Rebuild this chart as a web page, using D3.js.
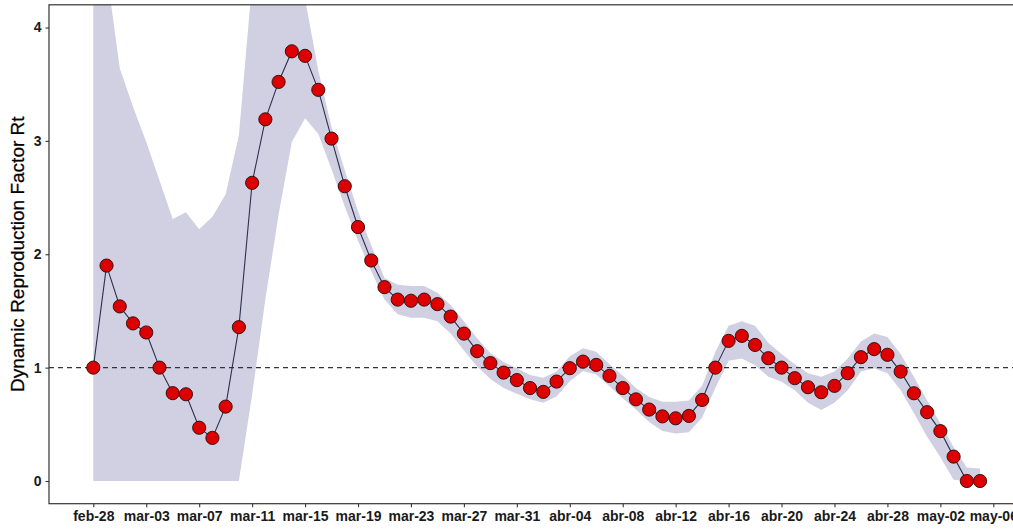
<!DOCTYPE html>
<html>
<head>
<meta charset="utf-8">
<script src="https://cdn.jsdelivr.net/npm/d3@7"></script>
<style>
  body { margin: 0; background: #ffffff; }
  text { font-family: "Liberation Sans", Arial, sans-serif; }
</style>
</head>
<body>
<svg id="chart" width="1013" height="529"></svg>
<script>
// Daily estimates of the dynamic reproduction factor Rt, from 2020-02-28
const startDate = "2020-02-28";

const rt = [
  1.00, 1.90, 1.54, 1.39, 1.31, 1.00, 0.775, 0.765, 0.47, 0.38,
  0.656, 1.357, 2.63, 3.19, 3.52, 3.79, 3.75, 3.45, 3.02, 2.60,
  2.24, 1.945, 1.71, 1.60, 1.59, 1.60, 1.56, 1.45, 1.30, 1.145,
  1.04, 0.956, 0.89, 0.82, 0.786, 0.877, 0.995, 1.053, 1.024, 0.927,
  0.82, 0.72, 0.63, 0.57, 0.553, 0.574, 0.715, 1.00, 1.236, 1.28,
  1.20, 1.083, 1.00, 0.907, 0.827, 0.783, 0.839, 0.951, 1.092, 1.163,
  1.113, 0.965, 0.774, 0.607, 0.44, 0.215, 0.0, 0.0
];

// Lower bound of the credible interval
const rtLower = [
  0, 0, 0, 0, 0, 0, 0, 0, 0, 0,
  0, 0, 0.76, 1.60, 2.35, 2.99, 3.20, 3.06, 2.75, 2.42,
  2.12, 1.85, 1.60, 1.47, 1.44, 1.44, 1.41, 1.30, 1.15, 1.01,
  0.90, 0.82, 0.77, 0.72, 0.69, 0.745, 0.88, 0.97, 0.94, 0.835,
  0.73, 0.63, 0.52, 0.44, 0.42, 0.43, 0.56, 0.82, 1.06, 1.08,
  1.02, 0.92, 0.875, 0.80, 0.69, 0.627, 0.69, 0.80, 0.965, 0.995,
  0.95, 0.80, 0.60, 0.39, 0.21, 0.01, 0, 0
];

// Upper bound of the credible interval
const rtUpper = [
  12, 4.5, 3.64, 3.30, 2.99, 2.65, 2.31, 2.37, 2.22, 2.33,
  2.53, 3.05, 4.4, 5.3, 5.6, 5.1, 4.25, 3.62, 3.12, 2.74,
  2.38, 2.08, 1.79, 1.73, 1.72, 1.72, 1.66, 1.55, 1.41, 1.26,
  1.13, 1.05, 0.995, 0.935, 0.91, 0.965, 1.10, 1.17, 1.14, 1.03,
  0.93, 0.82, 0.74, 0.70, 0.70, 0.71, 0.84, 1.14, 1.37, 1.41,
  1.37, 1.22, 1.12, 1.03, 0.95, 0.92, 0.965, 1.08, 1.23, 1.30,
  1.27, 1.12, 0.92, 0.71, 0.51, 0.30, 0.12, 0.11
];

const yTicks = [0, 1, 2, 3, 4];
const xTickDates = [
  "2020-02-28", "2020-03-03", "2020-03-07", "2020-03-11", "2020-03-15", "2020-03-19",
  "2020-03-23", "2020-03-27", "2020-03-31", "2020-04-04", "2020-04-08", "2020-04-12",
  "2020-04-16", "2020-04-20", "2020-04-24", "2020-04-28", "2020-05-02", "2020-05-06"
];
const xTickLabels = [
  "feb-28", "mar-03", "mar-07", "mar-11", "mar-15", "mar-19",
  "mar-23", "mar-27", "mar-31", "abr-04", "abr-08", "abr-12",
  "abr-16", "abr-20", "abr-24", "abr-28", "may-02", "may-06"
];
const referenceLevel = 1;
const yLabel = "Dynamic Reproduction Factor Rt";

const parse = d3.utcParse("%Y-%m-%d");
const day0 = parse(startDate);
const rows = rt.map((v, i) => ({
  date: d3.utcDay.offset(day0, i),
  rt: v,
  lo: rtLower[i],
  hi: rtUpper[i]
}));

const svg = d3.select("#chart");

// Panel geometry (the right side runs past the page edge)
const panel = { left: 49, right: 1025, top: 4.8, bottom: 503.7 };

const x = d3.scaleUtc()
  .domain([parse("2020-02-28"), parse("2020-05-06")])
  .range([93.3, 993.3]);
const y = d3.scaleLinear()
  .domain([0, 4])
  .range([481, 27.5]);

svg.append("defs").append("clipPath").attr("id", "panel-clip")
  .append("rect")
  .attr("x", panel.left).attr("y", panel.top)
  .attr("width", panel.right - panel.left)
  .attr("height", panel.bottom - panel.top);

const plot = svg.append("g").attr("clip-path", "url(#panel-clip)");

// Credible interval band
plot.append("path")
  .datum(rows)
  .attr("fill", "#d0d0e2")
  .attr("d", d3.area()
    .x(d => x(d.date))
    .y0(d => y(d.lo))
    .y1(d => y(d.hi)));

// Reference line at Rt = 1
plot.append("line")
  .attr("x1", panel.left).attr("x2", panel.right)
  .attr("y1", y(referenceLevel)).attr("y2", y(referenceLevel))
  .attr("stroke", "#333333")
  .attr("stroke-width", 1.3)
  .attr("stroke-dasharray", "5,4");

// Rt line
plot.append("path")
  .datum(rows)
  .attr("fill", "none")
  .attr("stroke", "#2b3050")
  .attr("stroke-width", 1.1)
  .attr("d", d3.line().x(d => x(d.date)).y(d => y(d.rt)));

// Rt points
plot.selectAll("circle.pt")
  .data(rows)
  .join("circle")
  .attr("class", "pt")
  .attr("cx", d => x(d.date))
  .attr("cy", d => y(d.rt))
  .attr("r", 6.6)
  .attr("fill", "#dc0000")
  .attr("stroke", "#2a0a0a")
  .attr("stroke-width", 0.9);

// Panel frame
svg.append("rect")
  .attr("x", panel.left).attr("y", panel.top)
  .attr("width", panel.right - panel.left)
  .attr("height", panel.bottom - panel.top)
  .attr("fill", "none")
  .attr("stroke", "#333333")
  .attr("stroke-width", 1.2);

// X axis
const xAxis = svg.append("g")
  .attr("transform", `translate(0,${panel.bottom})`)
  .call(d3.axisBottom(x)
    .tickValues(xTickDates.map(parse))
    .tickFormat((d, i) => xTickLabels[i])
    .tickSize(3.5)
    .tickPadding(4));
xAxis.select(".domain").remove();
xAxis.selectAll(".tick line").attr("stroke", "#333333").attr("stroke-width", 1.1);
xAxis.selectAll(".tick text")
  .attr("fill", "#1a1a1a")
  .style("font-family", "'Liberation Sans', Arial, sans-serif")
  .style("font-size", "14px")
  .style("font-weight", "bold");

// Y axis
const yAxis = svg.append("g")
  .attr("transform", `translate(${panel.left},0)`)
  .call(d3.axisLeft(y)
    .tickValues(yTicks)
    .tickFormat(d3.format("d"))
    .tickSize(3.5)
    .tickPadding(4));
yAxis.select(".domain").remove();
yAxis.selectAll(".tick line").attr("stroke", "#333333").attr("stroke-width", 1.1);
yAxis.selectAll(".tick text")
  .attr("fill", "#1a1a1a")
  .style("font-family", "'Liberation Sans', Arial, sans-serif")
  .style("font-size", "14px")
  .style("font-weight", "bold");

// Y axis title
svg.append("text")
  .attr("transform", `translate(24,${(panel.top + panel.bottom) / 2}) rotate(-90)`)
  .attr("text-anchor", "middle")
  .attr("fill", "#000000")
  .attr("stroke", "#000000")
  .attr("stroke-width", 0.25)
  .style("font-size", "19px")
  .text(yLabel);
</script>
</body>
</html>
